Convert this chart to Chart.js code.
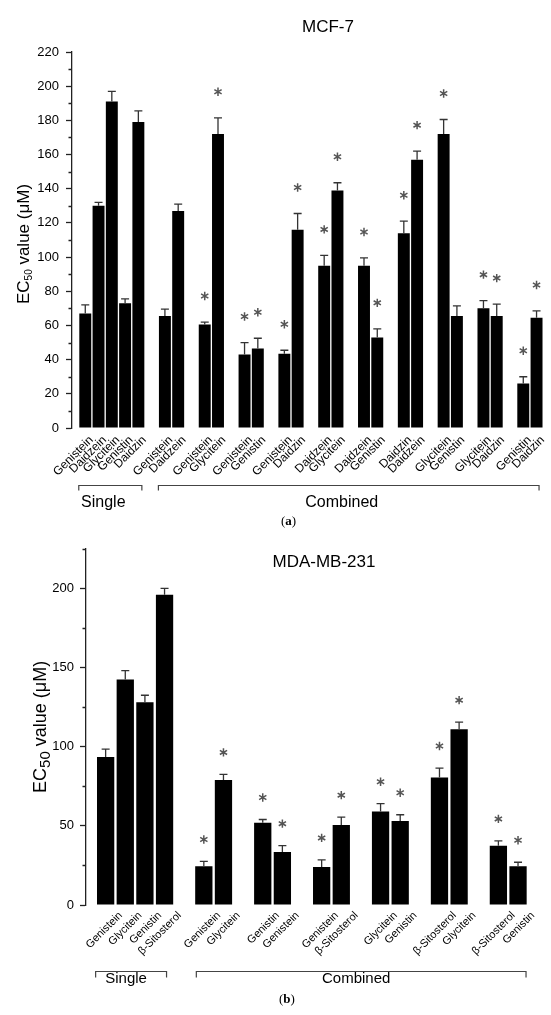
<!DOCTYPE html>
<html>
<head>
<meta charset="utf-8">
<script src="https://cdn.jsdelivr.net/npm/chart.js@4.4.1/dist/chart.umd.min.js"></script>
<style>
  html, body { margin: 0; padding: 0; background: #fff; overflow: hidden; }
  #wrap { position: relative; width: 551px; height: 1015px; overflow: hidden; }
  canvas { position: absolute; left: 0; }
</style>
</head>
<body>
<div id="wrap">
  <canvas id="mcf7" width="565" height="535" style="top:0"></canvas>
  <canvas id="mda" width="551" height="480" style="top:535px"></canvas>
</div>
<script>
const FONT = '"Liberation Sans", Arial, sans-serif';

// ------------------------
// (a) MCF-7 data
// ------------------------
const mcfSingleLabels = ["Genistein", "Daidzein", "Glycitein", "Genistin", "Daidzin"];
const mcfSingleEC50 = [67, 130, 191, 73, 179];
const mcfSingleErr = [5, 2, 6, 2.5, 6.5];
const mcfPairLabels = [
    ["Genistein", "Daidzein"], ["Genistein", "Glycitein"], ["Genistein", "Genistin"],
    ["Genistein", "Daidzin"], ["Daidzein", "Glycitein"], ["Daidzein", "Genistin"],
    ["Daidzin", "Daidzein"], ["Glycitein", "Genistin"], ["Glycitein", "Daidzin"],
    ["Genistin", "Daidzin"]
];
const mcfPairEC50 = [[65.5, 127], [60.5, 172], [43, 46.5], [43.5, 116], [95, 139],
    [95, 53], [114, 157], [172, 65.5], [70, 65.5], [26, 64.5]];
const mcfPairErr = [[4, 4], [1.5, 9.5], [7, 6], [2, 9.5], [6, 4.5],
    [4.5, 5], [7, 5], [8.5, 6], [4.5, 7], [4, 4]];
const mcfPairSig = [[false, false], [true, true], [true, true], [true, true], [true, true],
    [true, true], [true, true], [true, false], [true, true], [true, true]];

// ------------------------
// (b) MDA-MB-231 data
// ------------------------
const mdaSingleLabels = ["Genistein", "Glycitein", "Genistin", "β-Sitosterol"];
const mdaSingleEC50 = [93.5, 142.5, 128, 196];
const mdaSingleErr = [5, 5.5, 4.5, 4];
const mdaPairLabels = [
    ["Genistein", "Glycitein"], ["Genistin", "Genistein"], ["Genistein", "β-Sitosterol"],
    ["Glycitein", "Genistin"], ["β-Sitosterol", "Glycitein"], ["β-Sitosterol", "Genistin"]
];
const mdaPairEC50 = [[24.5, 79], [52, 33.5], [24, 50.5], [59, 53], [80.5, 111], [37.5, 24.5]];
const mdaPairErr = [[3, 3.5], [2, 4], [4.5, 5], [5, 4], [6, 4.5], [3, 2.5]];
const mdaPairSig = [[true, true], [true, true], [true, true], [true, true], [true, true], [true, true]];

// lay single bars, then pairs separated by an empty slot; blank slots at both ends
function buildSlots(sLabels, sVals, sErrs, pLabels, pVals, pErrs, pSig) {
    const labels = [""], values = [null], errors = [null], sig = [false];
    const add = (l, v, e, s) => { labels.push(l); values.push(v); errors.push(e); sig.push(s); };
    sLabels.forEach((l, i) => add(l, sVals[i], sErrs[i], false));
    const single = [1, sLabels.length];
    let combStart = 0;
    pLabels.forEach((pair, g) => {
        add("", null, null, false);
        if (g === 0) combStart = labels.length;
        pair.forEach((l, k) => add(l, pVals[g][k], pErrs[g][k], pSig[g][k]));
    });
    const combined = [combStart, labels.length - 1];
    add("", null, null, false);
    return { labels, values, errors, sig, single, combined };
}

function drawStar(ctx, x, y, r) {
    ctx.beginPath();
    for (let k = 0; k < 3; k++) {
        const a = Math.PI / 2 + k * Math.PI / 3;
        ctx.moveTo(x - r * Math.cos(a), y - r * Math.sin(a));
        ctx.lineTo(x + r * Math.cos(a), y + r * Math.sin(a));
    }
    ctx.stroke();
}

const decorPlugin = {
    id: "decor",
    afterDatasetsDraw(chart, args, o) {
        const ctx = chart.ctx, y = chart.scales.y;
        const meta = chart.getDatasetMeta(0);
        const vals = chart.data.datasets[0].data;
        ctx.save();
        meta.data.forEach((bar, i) => {
            if (vals[i] == null) return;
            const yTop = y.getPixelForValue(vals[i] + o.errors[i]);
            ctx.strokeStyle = "#333";
            ctx.lineWidth = 1.3;
            ctx.beginPath();
            ctx.moveTo(bar.x, bar.y);
            ctx.lineTo(bar.x, yTop);
            ctx.moveTo(bar.x - o.capHalf, yTop);
            ctx.lineTo(bar.x + o.capHalf, yTop);
            ctx.stroke();
            if (o.sig[i]) {
                ctx.strokeStyle = "#555";
                ctx.lineWidth = 1.5;
                drawStar(ctx, bar.x, yTop - o.starGap, 4.2);
            }
        });
        ctx.restore();
    },
    afterDraw(chart, args, o) {
        const ctx = chart.ctx, x = chart.scales.x, y = chart.scales.y;
        const area = chart.chartArea;
        ctx.save();
        // minor ticks
        ctx.strokeStyle = "#222";
        ctx.lineWidth = 1.3;
        ctx.beginPath();
        for (let v = y.min; v <= y.max + 1e-9; v += o.minorStep) {
            if (v % o.majorStep === 0) continue;
            const py = Math.round(y.getPixelForValue(v)) + 0.5;
            ctx.moveTo(area.left - o.minorLen, py);
            ctx.lineTo(area.left, py);
        }
        ctx.stroke();

        // title
        ctx.fillStyle = "#000";
        ctx.textAlign = "center";
        ctx.textBaseline = "middle";
        ctx.font = o.titleSize + "px " + FONT;
        ctx.fillText(o.title, o.titleX, o.titleY);

        // y title with subscript
        ctx.save();
        ctx.translate(o.yTitleX, (area.top + area.bottom) / 2 + o.yTitleShift);
        ctx.rotate(-Math.PI / 2);
        ctx.textBaseline = "alphabetic";
        ctx.textAlign = "left";
        const main = o.yTitleSize + "px " + FONT, sub = o.subSize + "px " + FONT;
        ctx.font = main; const w1 = ctx.measureText("EC").width;
        ctx.font = sub; const w2 = ctx.measureText("50").width;
        ctx.font = main; const w3 = ctx.measureText(" value (μM)").width;
        let cx = -(w1 + w2 + w3) / 2;
        const base = o.yTitleSize * 0.36;
        ctx.font = main; ctx.fillText("EC", cx, base); cx += w1;
        ctx.font = sub; ctx.fillText("50", cx, base + o.subDrop); cx += w2;
        ctx.font = main; ctx.fillText(" value (μM)", cx, base);
        ctx.restore();

        // brackets
        ctx.strokeStyle = "#444";
        ctx.lineWidth = 1.2;
        o.brackets.forEach(b => {
            const x0 = x.getPixelForValue(b.range[0]) + b.pad[0];
            const x1 = x.getPixelForValue(b.range[1]) + b.pad[1];
            ctx.beginPath();
            ctx.moveTo(x0, o.bracketY + o.bracketTick);
            ctx.lineTo(x0, o.bracketY);
            ctx.lineTo(x1, o.bracketY);
            ctx.lineTo(x1, o.bracketY + o.bracketTick);
            ctx.stroke();
            ctx.font = o.groupSize + "px " + FONT;
            ctx.textAlign = "center";
            ctx.fillText(b.text, (x0 + x1) / 2 + o.groupTextShift, o.groupTextY);
        });

        // panel letter
        ctx.textAlign = "left";
        const pf = o.panelSize + "px \"Liberation Serif\", \"Times New Roman\", serif";
        const bf = "bold " + pf;
        let px = o.panelX;
        ctx.font = pf; ctx.fillText("(", px, o.panelY); px += ctx.measureText("(").width;
        ctx.font = bf; ctx.fillText(o.panel, px, o.panelY); px += ctx.measureText(o.panel).width;
        ctx.font = pf; ctx.fillText(")", px, o.panelY);
        ctx.restore();
    }
};

function makeChart(id, s, cfg) {
    return new Chart(document.getElementById(id), {
        type: "bar",
        data: {
            labels: s.labels,
            datasets: [{
                data: s.values,
                backgroundColor: "#000",
                borderWidth: 0,
                barPercentage: cfg.barPct,
                categoryPercentage: 1
            }]
        },
        options: {
            responsive: false,
            animation: false,
            events: [],
            layout: { padding: cfg.padding },
            scales: {
                x: {
                    type: "category",
                    offset: false,
                    grid: { display: false, drawTicks: false },
                    border: { display: false },
                    ticks: {
                        autoSkip: false, minRotation: 45, maxRotation: 45,
                        padding: cfg.xPad, labelOffset: cfg.xShift, color: "#000",
                        font: { family: FONT, size: cfg.xFont }
                    },
                    afterFit(sc) { sc.height = cfg.xHeight; }
                },
                y: {
                    min: 0, max: cfg.yMax,
                    ticks: {
                        stepSize: cfg.major, includeBounds: false, padding: cfg.yPad,
                        color: "#000", font: { family: FONT, size: cfg.yFont }
                    },
                    grid: { drawOnChartArea: false, tickLength: 6, tickColor: "#222", tickWidth: 1.3 },
                    border: { color: "#222", width: 1.3 },
                    afterFit(sc) { sc.width = cfg.yWidth; }
                }
            },
            plugins: {
                legend: { display: false },
                tooltip: { enabled: false },
                decor: Object.assign({ errors: s.errors, sig: s.sig }, cfg.decor(s))
            }
        },
        plugins: [decorPlugin]
    });
}

const mcf = buildSlots(mcfSingleLabels, mcfSingleEC50, mcfSingleErr, mcfPairLabels, mcfPairEC50, mcfPairErr, mcfPairSig);
const mda = buildSlots(mdaSingleLabels, mdaSingleEC50, mdaSingleErr, mdaPairLabels, mdaPairEC50, mdaPairErr, mdaPairSig);

makeChart("mcf7", mcf, {
    barPct: 0.9, padding: { top: 52, right: 7, left: 0, bottom: 0 },
    xPad: 5, xShift: 6, xFont: 12, xHeight: 107, yMax: 220, major: 20, yPad: 7, yFont: 13, yWidth: 72,
    decor: s => ({
        capHalf: 4, starGap: 26, minorStep: 10, majorStep: 20, minorLen: 3.5,
        title: "MCF-7", titleX: 328, titleY: 27, titleSize: 17,
        yTitleX: 23, yTitleShift: 4, yTitleSize: 17, subSize: 10, subDrop: 3,
        bracketY: 485.5, bracketTick: 5, groupSize: 16, groupTextY: 503, groupTextShift: -7,
        brackets: [
            { range: s.single, pad: [-6.5, 3.5], text: "Single" },
            { range: s.combined, pad: [-6.5, 2.5], text: "Combined" }
        ],
        panel: "a", panelX: 281, panelY: 522, panelSize: 13
    })
});

makeChart("mda", mda, {
    barPct: 0.88, padding: { top: 11, right: 3, left: 0, bottom: 0 },
    xPad: 4, xShift: 15, xFont: 11, xHeight: 110, yMax: 225, major: 50, yPad: 6, yFont: 13, yWidth: 86,
    decor: s => ({
        capHalf: 4, starGap: 22, minorStep: 25, majorStep: 50, minorLen: 3.5,
        title: "MDA-MB-231", titleX: 324, titleY: 27, titleSize: 17,
        yTitleX: 40, yTitleShift: 0, yTitleSize: 18, subSize: 15, subDrop: 4,
        bracketY: 436.5, bracketTick: 6, groupSize: 15, groupTextY: 444, groupTextShift: -5,
        brackets: [
            { range: s.single, pad: [-10, 2], text: "Single" },
            { range: s.combined, pad: [-7.5, 8], text: "Combined" }
        ],
        panel: "b", panelX: 279, panelY: 465, panelSize: 13
    })
});
</script>
</body>
</html>
